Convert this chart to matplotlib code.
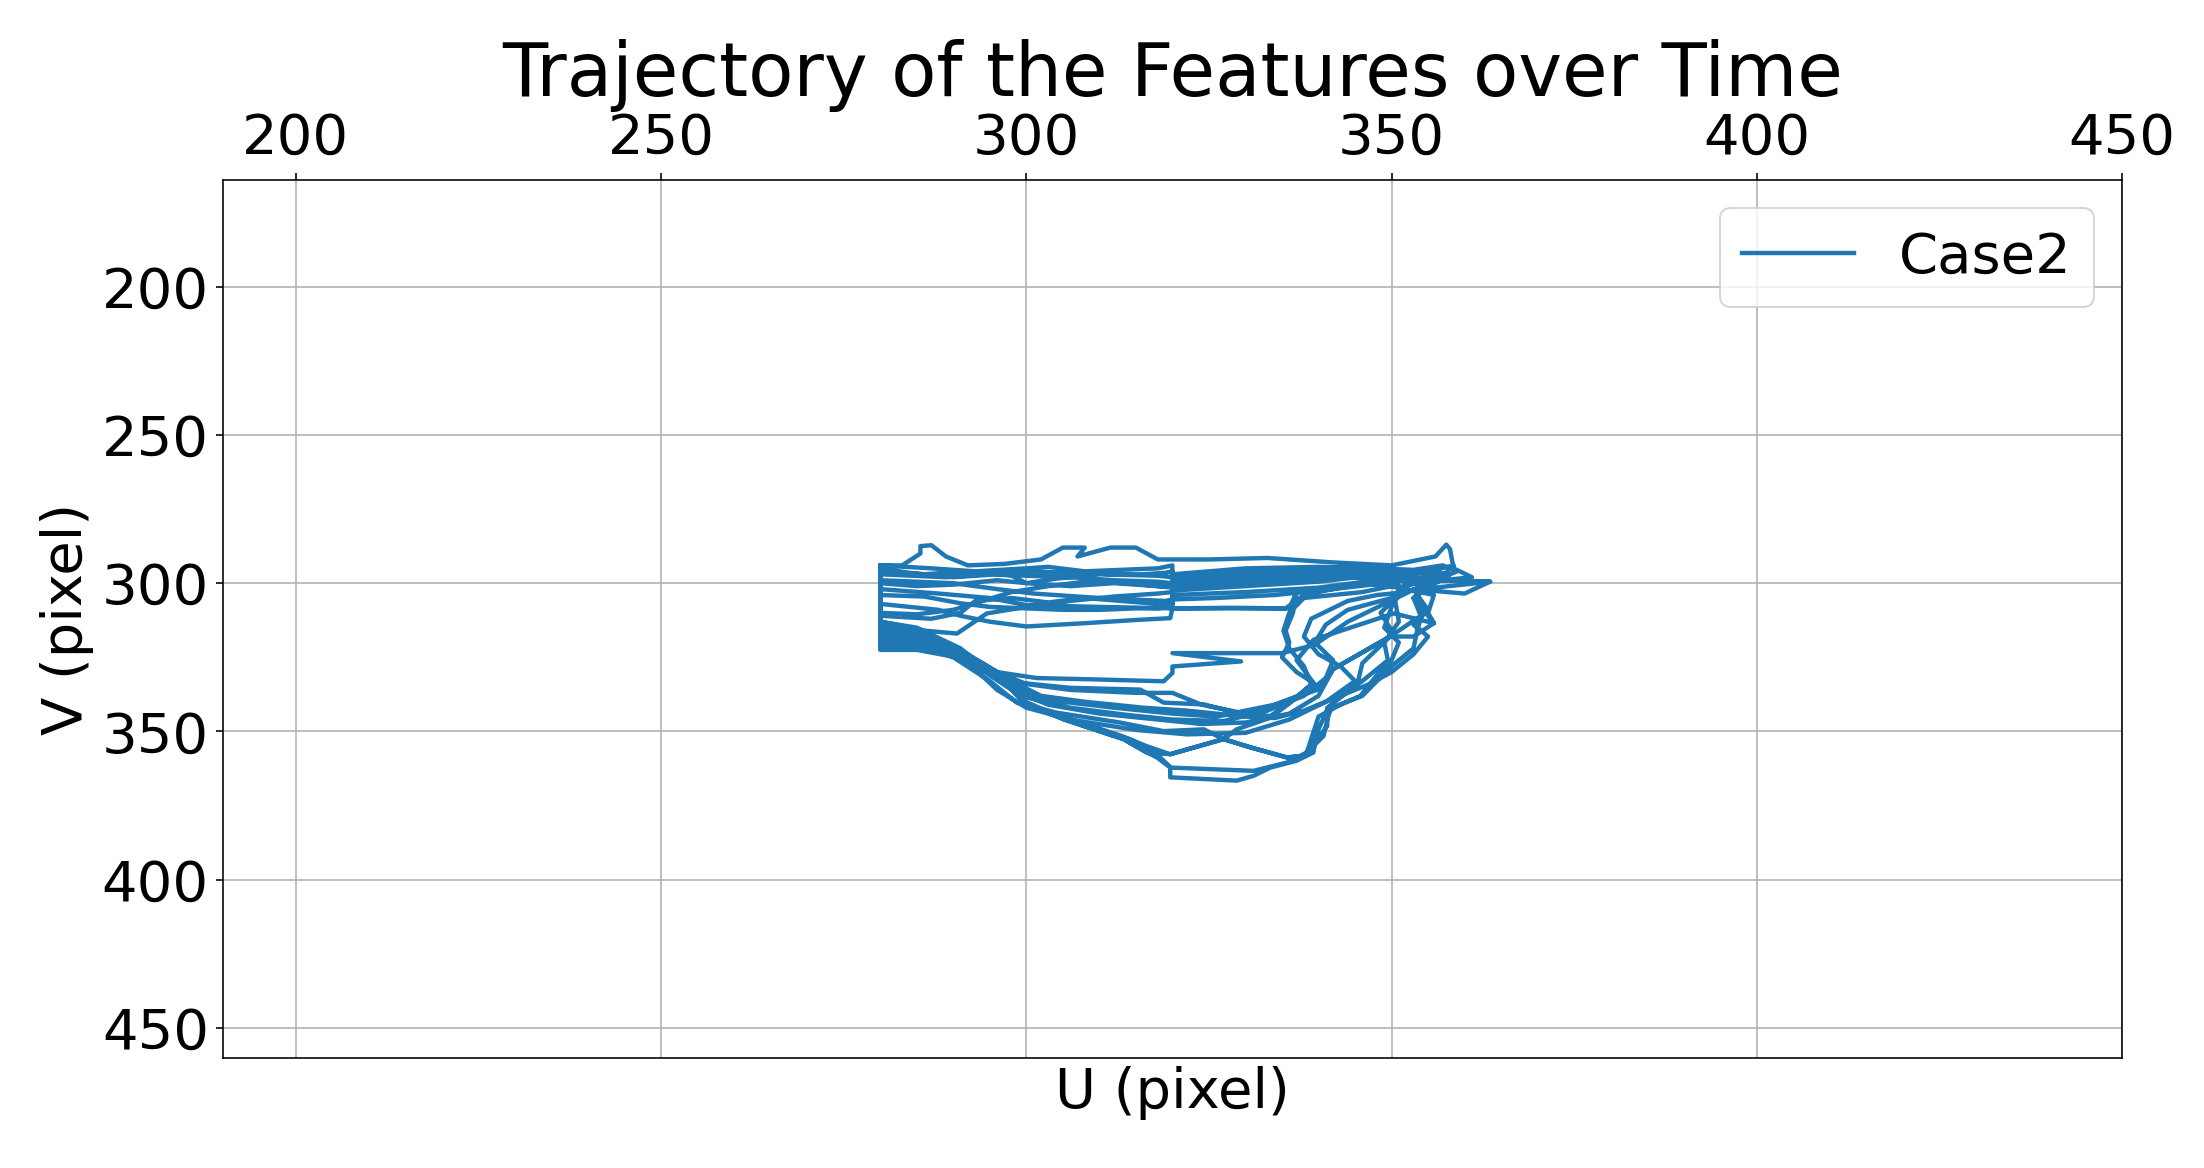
import numpy as np
import matplotlib
matplotlib.use("Agg")
import matplotlib.pyplot as plt

# trajectory of the tracked feature, one lap per list (U, V in pixels)
lap1 = [(280, 294), (283, 294), (285.5, 290), (285.5, 287.5), (287, 287.2), (289, 291), (292, 294),
        (297, 293.5), (302, 292), (305, 288), (308, 288), (307, 291), (311.5, 288), (315, 288), (318, 292),
        (325, 292), (333, 291.5), (342, 293), (350, 294), (356, 291), (357.5, 287), (358, 288.5),
        (358.5, 295), (361, 298), (357, 299), (363.5, 299.5), (360, 303.5), (353, 302), (354.5, 308),
        (353.5, 316), (353, 322), (350, 328), (346, 338), (341.2, 342.6), (339.8, 350.4), (339.3, 357.1),
        (337, 359.9), (333.4, 362.2), (331.1, 365), (328.8, 366.6), (319.7, 365.5), (319.7, 362),
        (317.6, 357.1), (314.2, 352.7), (304.3, 344.8), (299.2, 339.2), (296.3, 331.4), (292.2, 325.8),
        (285, 322.5), (280, 322.5)]
lap2 = [(280, 296), (286, 297), (292, 296), (298, 297.5), (300, 300), (304, 298.5), (310, 297),
        (318, 297.5), (320, 298), (320, 304), (330, 303), (340, 301.5), (348, 299), (352, 296), (356, 297),
        (352, 300), (350.5, 306), (351, 313), (349, 320), (349.5, 326), (346, 333), (342, 340),
        (341.2, 346), (340.7, 351.5), (338, 358.2), (335.7, 358.8), (330.7, 355.4), (327, 352.6),
        (319.7, 357.7), (316.5, 357.1), (313.3, 352.6), (305.1, 345.9), (299.6, 340.3), (298.2, 334.7),
        (292.3, 325.8), (286, 321), (280, 320)]
lap3 = [(280, 299), (290, 300), (296, 302), (301, 303.5), (310, 305), (319, 306), (320, 305.5),
        (320, 301), (327, 300.5), (336, 299.5), (344, 298), (350, 297), (353.5, 298), (354, 301),
        (349, 307), (344, 313), (339.5, 320.8), (335, 323.6), (320, 323.6), (329.4, 326.4), (320, 328.1),
        (320, 330.3), (318.8, 333.1), (310, 332.5), (301.4, 332), (296, 330), (292, 324), (286, 319),
        (280, 318)]
lap4 = [(280, 302), (288, 303.5), (295, 305), (300, 307.4), (310, 308), (319.5, 308.5), (320, 308.5),
        (328, 308.5), (336, 308.5), (337, 303), (336.5, 310), (335.5, 316), (336, 320), (335, 325),
        (337, 330), (339.3, 333.6), (336.1, 340.3), (333.4, 344.8), (328.8, 343.7), (324.3, 340.9),
        (318.8, 340.3), (315.6, 335.9), (306, 335.3), (299.1, 333.6), (294, 328), (288, 320), (280, 317)]
lap5 = [(280, 300), (285, 301), (290, 300.5), (296, 299), (300, 300), (306, 301), (312, 300),
        (318, 301), (320, 301), (320, 298), (328, 297), (338, 296.5), (346, 296), (350, 297), (352, 299),
        (351, 304), (348.5, 310), (350, 316), (349.8, 318), (346, 327), (345.3, 334.2), (341.2, 342),
        (341.2, 348.2), (339.8, 352.6), (338, 358.2), (335.7, 358.8), (330.7, 355.4), (327, 352.6),
        (324.3, 349.3), (318.8, 349.9), (312.8, 347), (304.2, 343.7), (298.7, 340.3), (295, 333),
        (290, 325), (280, 316)]
lap6 = [(280, 294), (287, 295), (293, 296), (300, 295), (303, 294.5), (308, 296), (313, 295.5),
        (318, 295), (320, 294), (320, 298), (330, 296.5), (340, 295), (347, 294), (349, 297), (351, 302),
        (350, 308), (349, 315), (351, 320), (350, 326), (348, 331), (345.7, 338.1), (343, 341),
        (340, 345), (338.4, 357.1), (335.7, 360.5), (331.1, 363.3), (319.7, 362.2), (317.9, 358.8),
        (316.5, 357.1), (313.3, 352.6), (305.1, 345.9), (299.6, 340.3), (298.2, 334.7), (292.3, 325.8),
        (285, 321.5), (280, 321)]
lap7 = [(280, 297), (289, 298), (294.6, 297), (300, 296), (306, 296.5), (312, 297), (316, 297),
        (319, 296.5), (320, 296), (320, 300), (327, 299.5), (336, 298.5), (345, 297), (355, 296),
        (358, 297), (356, 300), (353, 305), (355.8, 313.5), (350.3, 310.2), (339.3, 319.1), (337, 326),
        (339.3, 333.6), (336.1, 340.3), (333.4, 345.4), (328.8, 349.3), (327, 352.6), (319.7, 357.7),
        (316.5, 355), (313, 351.5), (305, 345), (300, 341), (298, 336), (292.5, 327), (285, 320),
        (280, 319)]
lap8 = [(280, 304), (286, 304.5), (291, 306.8), (295, 308), (300, 308.5), (305, 309), (310, 309),
        (315, 308.5), (318, 308.5), (320, 308), (320, 305.5), (326, 305), (334, 304), (342, 302),
        (349, 300), (354, 298), (356, 299), (353, 305), (354, 311), (349.8, 318), (342, 329),
        (339.8, 336), (334, 341), (329, 343.5), (324, 341), (320, 337), (315, 337), (306, 336),
        (300, 334), (296, 330), (293, 326), (285, 316), (280, 314)]
lap9 = [(280, 307), (288, 309), (291, 311), (295, 313), (300, 314.6), (308, 313.5), (315.1, 312.4),
        (319.7, 311.8), (320, 308.5), (328, 308.3), (335.5, 308.5), (338, 304), (346, 300), (351, 301.5),
        (355.8, 304), (355, 310), (355.8, 313.5), (353, 318), (349.8, 318), (342, 329), (340, 338),
        (336, 344), (330, 347), (324, 347.5), (318, 346), (310, 344), (303, 341), (299, 337),
        (295, 330), (291, 322), (285, 315), (280, 313)]
lap10 = [(286, 316), (290.5, 317), (294.6, 310.2), (300, 308), (306, 306), (312, 304.5), (318, 303.5),
         (320, 303), (320, 299), (329, 298), (337, 297.5), (343, 296), (347, 298), (351, 300.5),
         (346, 303), (338, 305), (336, 310), (335.2, 316), (336, 322), (338, 328), (339.3, 336),
         (333, 342), (326, 345), (320, 344), (312, 342), (305, 340), (300, 337), (296, 332),
         (293, 326), (288, 320), (280, 316)]
lap11 = [(280, 295), (284, 296.5), (290, 298), (296, 297), (300, 297.5), (306, 298), (312, 299),
         (318, 299.5), (320, 300), (320, 297), (330, 295), (340, 294.5), (348, 295), (353, 295.5),
         (357, 294), (359, 296), (355, 300), (353.5, 304), (355, 309), (353, 314), (355, 318),
         (353, 324), (350, 330), (347, 334), (343, 338), (338, 343), (334, 345.5), (330, 345),
         (322, 343), (316, 342), (308, 340), (302, 338), (298, 333), (294, 327), (286, 318), (280, 315)]
lap12 = [(280, 310), (285, 310.5), (290, 309), (294, 306), (298, 303), (303, 301), (308, 299.5),
         (314, 300), (320, 301.5), (320, 299.5), (332, 299), (342, 298), (350, 298.5), (356, 301.5),
         (363.5, 299.5), (357, 299), (352, 303), (348, 304), (344, 306), (339, 312), (338, 318),
         (340, 324), (343, 328), (345, 333), (341, 340), (336, 346), (330, 350.5), (322, 351),
         (315, 349.5), (306, 346), (300, 342), (296, 336), (293, 329), (288, 322), (280, 319.5)]
lap13 = [(280, 311), (287, 312), (291, 310), (293, 306), (298, 305), (303, 306.5), (308, 305),
         (313, 306), (318, 307), (320, 307), (320, 302.5), (330, 301), (340, 299.5), (347, 297.5),
         (352, 297), (356, 295.5), (358.5, 294), (357, 297.5), (352, 301), (350, 305), (344, 309),
         (341, 314), (339.5, 320), (342, 326), (341, 332), (338, 338), (333, 343), (327, 346.5),
         (320, 346), (314, 344.5), (306, 342), (300, 338.5), (297, 333), (292, 325), (284, 318),
         (280, 317.5)]

laps = [lap1, lap2, lap3, lap4, lap5, lap6, lap7, lap8, lap9, lap10, lap11, lap12, lap13]
u = np.array([p[0] for lap in laps for p in lap])
v = np.array([p[1] for lap in laps for p in lap])

u_ticks = [200, 250, 300, 350, 400, 450]
v_ticks = [200, 250, 300, 350, 400, 450]

fig = plt.figure(figsize=(2204 / 144, 1168 / 144), dpi=144)
ax = fig.add_axes([0.1011, 0.0946, 0.8617, 0.7513])

ax.plot(u, v, color="#1f77b4", linewidth=2.2, label="Case2")

ax.set_xlim(190, 450)
ax.set_ylim(460, 164)
ax.set_xticks(u_ticks)
ax.set_yticks(v_ticks)
ax.xaxis.tick_top()
ax.tick_params(labelsize=28)
ax.grid(True)

ax.set_xlabel("U (pixel)", fontsize=28)
ax.set_ylabel("V (pixel)", fontsize=28)
ax.set_title("Trajectory of the Features over Time", fontsize=37)
ax.legend(loc="upper right", fontsize=28)

fig.savefig("out.png", dpi=144)
